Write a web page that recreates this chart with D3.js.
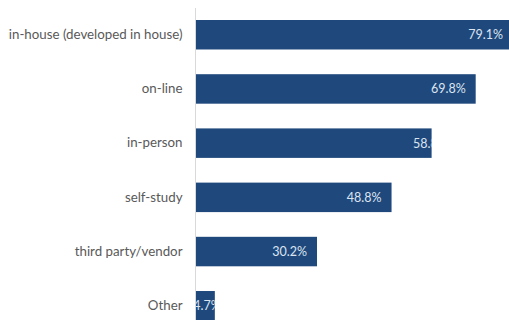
<!DOCTYPE html>
<html>
<head>
<meta charset="utf-8">
<script src="https://cdn.jsdelivr.net/npm/d3@7"></script>
<style>
  body { margin: 0; background: #fff; }
  svg { display: block; }
</style>
</head>
<body>
<svg id="chart"></svg>
<script>
// Chart data
let categories = ["in-house (developed in house)", "on-line", "in-person", "self-study", "third party/vendor", "Other"];
let values = [79.1, 69.8, 58.8, 48.8, 30.2, 4.7];

let width = 509;
let height = 320;

let margin = { top: 8, right: 0, bottom: 0, left: 196 };

let svg = d3.select("#chart")
    .attr("width", width)
    .attr("height", height);

// x: about 4 px per percent, bar 1 runs past the right edge
let xScale = d3.scaleLinear()
    .domain([0, 100])
    .range([margin.left, margin.left + 400.7]);

let yScale = d3.scaleBand()
    .domain(categories)
    .range([20, 320.5])
    .paddingInner(0.456)
    .paddingOuter(0);

// category axis
let yAxis = svg.append("g")
    .attr("transform", `translate(${margin.left - 0.5}, 0)`)
    .call(d3.axisLeft(yScale).tickSize(0).tickPadding(13));

yAxis.select(".domain").remove();
yAxis.selectAll("text")
    .attr("fill", "#595959")
    .style("font-family", "Lato, 'Open Sans', sans-serif")
    .style("font-size", "13.3px");

svg.append("line")
    .attr("x1", margin.left - 0.5)
    .attr("x2", margin.left - 0.5)
    .attr("y1", margin.top)
    .attr("y2", height)
    .attr("stroke", "#d9d9d9");

let data = categories.map((c, i) => ({ cat: c, val: values[i] }));

// clip each label to its bar, as in the source
let defs = svg.append("defs");
defs.selectAll("clipPath")
    .data(data)
    .enter().append("clipPath")
    .attr("id", (d, i) => "clip" + i)
    .append("rect")
    .attr("x", xScale(0))
    .attr("y", d => yScale(d.cat))
    .attr("width", d => xScale(d.val) - xScale(0))
    .attr("height", yScale.bandwidth());

svg.selectAll(".bar")
    .data(data)
    .enter().append("rect")
    .attr("class", "bar")
    .attr("x", xScale(0))
    .attr("y", d => yScale(d.cat))
    .attr("width", d => xScale(d.val) - xScale(0))
    .attr("height", yScale.bandwidth())
    .attr("fill", "#1f497d");

// a couple of labels are offset and cut off in the original
let nudge = { "in-person": 26, "Other": 16 };

svg.selectAll(".lbl")
    .data(data)
    .enter().append("text")
    .attr("class", "lbl")
    .attr("clip-path", (d, i) => `url(#clip${i})`)
    .attr("x", d => xScale(d.val) - 10 + (nudge[d.cat] || 0))
    .attr("y", d => yScale(d.cat) + yScale.bandwidth() / 2)
    .attr("dy", "0.35em")
    .attr("text-anchor", "end")
    .attr("fill", "#dce4f0")
    .style("font-family", "Lato, 'Open Sans', sans-serif")
    .style("font-size", "12.5px")
    .text(d => d.val.toFixed(1) + "%");
</script>
</body>
</html>
